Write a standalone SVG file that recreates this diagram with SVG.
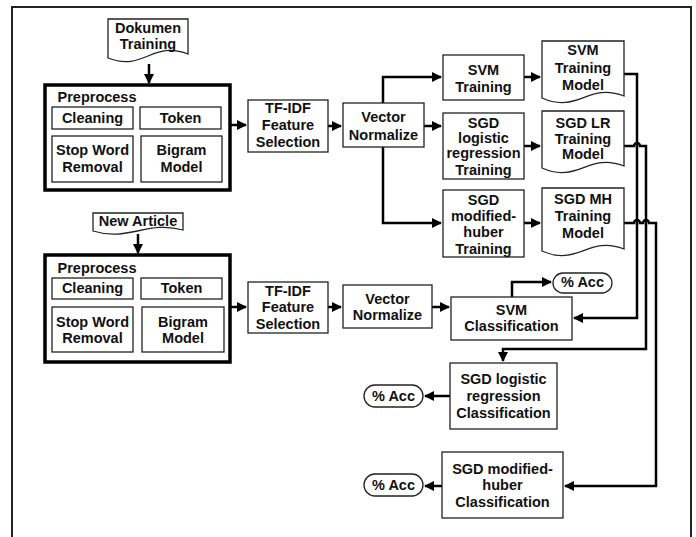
<svg xmlns="http://www.w3.org/2000/svg" width="696" height="537" viewBox="0 0 696 537">
<defs>
<marker id="ah" viewBox="0 0 10 10" refX="9" refY="5" markerWidth="4" markerHeight="4" orient="auto" markerUnits="strokeWidth"><path d="M0,0 L10,5 L0,10 Z" fill="#000"/></marker>
</defs>
<style>
text{font-family:"Liberation Sans",Arial,sans-serif;font-weight:bold;font-size:14.5px;fill:#111;text-anchor:middle}
.b{fill:#fff;stroke:#222;stroke-width:1.3}
.p{fill:#fff;stroke:#000;stroke-width:3.5}
.c{fill:none;stroke:#000;stroke-width:2.5}
.a{marker-end:url(#ah)}
</style>
<rect width="696" height="537" fill="#fff"/>
<path d="M12,537 V7 H691 V537" fill="none" stroke="#222" stroke-width="2"/>

<g id="connectors">
<path class="c a" d="M149,64 V83"/>
<path class="c a" d="M230,125 H246"/>
<path class="c a" d="M328,126 H341"/>
<path class="c a" d="M383,103 V77 H441"/>
<path class="c a" d="M424,126 H441"/>
<path class="c a" d="M383,147 V223 H441"/>
<path class="c a" d="M524,77 H540"/>
<path class="c a" d="M524,146 H540"/>
<path class="c a" d="M524,223 H540"/>
<path class="c a" d="M624,74 H637 V318 H574"/>
<path class="c a" d="M624,146 H634 A3,3 0 0 1 640,146 H646 V349 H503 V361"/>
<path class="c a" d="M624,223 H634 A3,3 0 0 1 640,223 H643 A3,3 0 0 1 649,223 H656 V486 H565"/>
<path class="c a" d="M138,234 V253"/>
<path class="c a" d="M230,307 H246"/>
<path class="c a" d="M328,307 H341"/>
<path class="c a" d="M432,307 H449"/>
<path class="c a" d="M512,297 V282 H551"/>
<path class="c a" d="M450,396 H425"/>
<path class="c a" d="M442,486 H425"/>
</g>

<g id="dokumen-training">
<path class="b" d="M108,19 H188 V54 C152,40 144,72 108,58 Z"/>
<text x="148" y="33">Dokumen</text><text x="148" y="49">Training</text>
</g>

<g id="preprocess-1">
<rect class="p" x="45" y="85" width="185" height="105"/>
<text x="97" y="102">Preprocess</text>
</g>
<g id="cleaning-1"><rect class="b" x="52" y="107" width="81" height="22"/><text x="92.5" y="123">Cleaning</text></g>
<g id="token-1"><rect class="b" x="140" y="107" width="81" height="22"/><text x="180.5" y="123">Token</text></g>
<g id="stopword-1"><rect class="b" x="52" y="136" width="81" height="46"/><text x="92.5" y="155">Stop Word</text><text x="92.5" y="172">Removal</text></g>
<g id="bigram-1"><rect class="b" x="141" y="136" width="81" height="46"/><text x="181.5" y="155">Bigram</text><text x="181.5" y="172">Model</text></g>

<g id="tfidf-1"><rect class="b" x="248" y="100" width="80" height="52"/><text x="288" y="113">TF-IDF</text><text x="288" y="130">Feature</text><text x="288" y="147">Selection</text></g>
<g id="vector-1"><rect class="b" x="343" y="103" width="81" height="44"/><text x="383.5" y="122">Vector</text><text x="383.5" y="140">Normalize</text></g>

<g id="svm-training"><rect class="b" x="443" y="55" width="81" height="45"/><text x="483.5" y="75">SVM</text><text x="483.5" y="92">Training</text></g>
<g id="sgdlr-training"><rect class="b" x="443" y="113" width="81" height="66"/><text x="483.5" y="128">SGD</text><text x="483.5" y="143">logistic</text><text x="483.5" y="158">regression</text><text x="483.5" y="175">Training</text></g>
<g id="sgdmh-training"><rect class="b" x="443" y="190" width="81" height="67"/><text x="483.5" y="205">SGD</text><text x="483.5" y="221">modified-</text><text x="483.5" y="237">huber</text><text x="483.5" y="254">Training</text></g>

<g id="svm-model">
<path class="b" d="M542,41 H624 V96 C588,82 578,114 542,98 Z"/>
<text x="583" y="55">SVM</text><text x="583" y="73">Training</text><text x="583" y="90">Model</text>
</g>
<g id="sgdlr-model">
<path class="b" d="M542,111 H624 V166 C588,152 578,184 542,168 Z"/>
<text x="583" y="128">SGD LR</text><text x="583" y="144">Training</text><text x="583" y="159">Model</text>
</g>
<g id="sgdmh-model">
<path class="b" d="M542,188 H624 V249 C588,235 578,267 542,251 Z"/>
<text x="583" y="204">SGD MH</text><text x="583" y="221">Training</text><text x="583" y="238">Model</text>
</g>

<g id="new-article">
<path class="b" d="M93,213 H183 V230 C148,220 128,242 93,231 Z"/>
<text x="138" y="226">New Article</text>
</g>

<g id="preprocess-2">
<rect class="p" x="45" y="255" width="185" height="107"/>
<text x="97" y="273">Preprocess</text>
</g>
<g id="cleaning-2"><rect class="b" x="52" y="278" width="81" height="21"/><text x="92.5" y="293">Cleaning</text></g>
<g id="token-2"><rect class="b" x="141" y="278" width="81" height="21"/><text x="181.5" y="293">Token</text></g>
<g id="stopword-2"><rect class="b" x="52" y="307" width="81" height="45"/><text x="92.5" y="327">Stop Word</text><text x="92.5" y="343">Removal</text></g>
<g id="bigram-2"><rect class="b" x="142" y="307" width="82" height="45"/><text x="183" y="327">Bigram</text><text x="183" y="343">Model</text></g>

<g id="tfidf-2"><rect class="b" x="248" y="282" width="80" height="51"/><text x="288" y="296">TF-IDF</text><text x="288" y="312">Feature</text><text x="288" y="329">Selection</text></g>
<g id="vector-2"><rect class="b" x="343" y="285" width="89" height="43"/><text x="387.5" y="304">Vector</text><text x="387.5" y="320">Normalize</text></g>

<g id="svm-classification"><rect class="b" x="451" y="297" width="121" height="43"/><text x="511.5" y="315">SVM</text><text x="511.5" y="331">Classification</text></g>
<g id="acc-1"><rect class="b" x="553" y="273" width="59" height="20" rx="10"/><text x="582.5" y="287">% Acc</text></g>

<g id="sgdlr-classification"><rect class="b" x="450" y="363" width="107" height="66"/><text x="503.5" y="384">SGD logistic</text><text x="503.5" y="401">regression</text><text x="503.5" y="418">Classification</text></g>
<g id="acc-2"><rect class="b" x="364" y="385" width="59" height="22" rx="11"/><text x="393.5" y="401">% Acc</text></g>

<g id="sgdmh-classification"><rect class="b" x="442" y="452" width="121" height="66"/><text x="502.5" y="474">SGD modified-</text><text x="502.5" y="490">huber</text><text x="502.5" y="507">Classification</text></g>
<g id="acc-3"><rect class="b" x="364" y="474" width="59" height="22" rx="11"/><text x="393.5" y="490">% Acc</text></g>
</svg>
